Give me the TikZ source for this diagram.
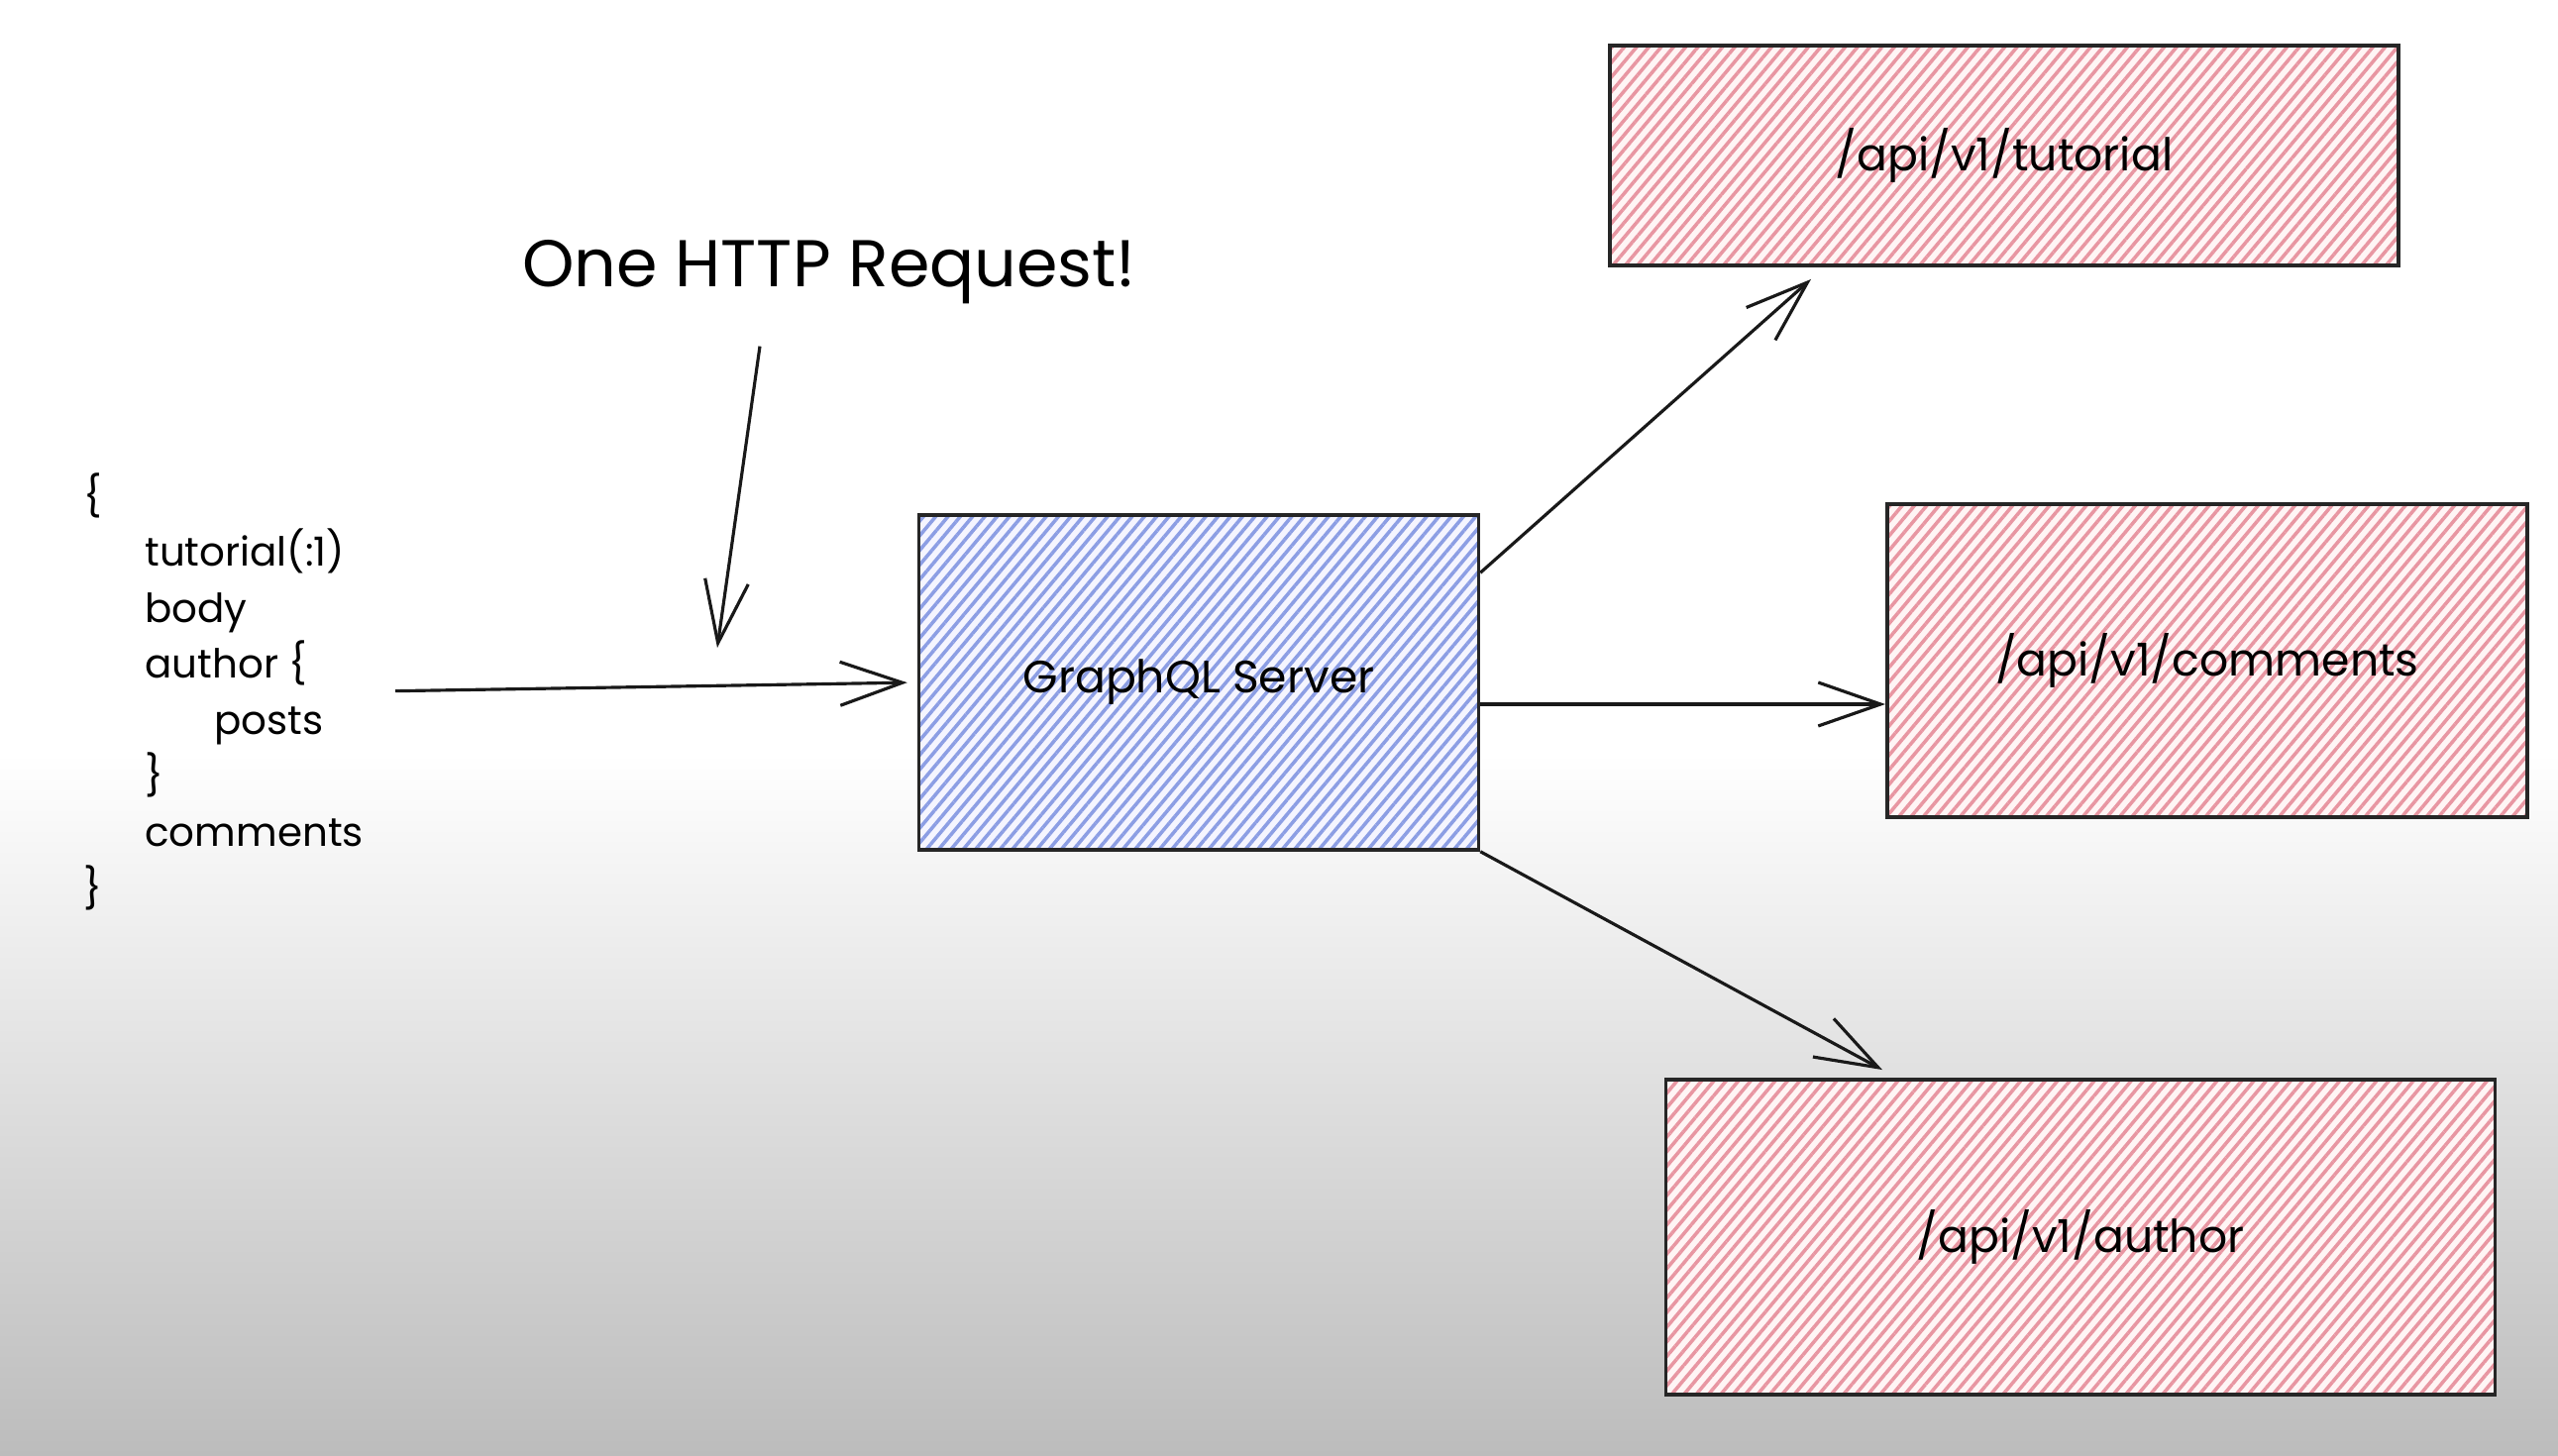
\documentclass[tikz,border=0pt]{standalone}
\usepackage{fontspec}
\setmainfont{Poppins}
\usetikzlibrary{positioning,arrows.meta,patterns.meta}

\definecolor{hatchblue}{RGB}{140,158,228}
\definecolor{hatchred}{RGB}{232,150,162}
\definecolor{shadowgray}{RGB}{188,188,188}

\begin{document}
\begin{tikzpicture}[
        box/.style={draw=black!85, line width=1.1pt, inner sep=0pt, font=\fontsize{13}{16}\selectfont},
        serverbox/.style={box, preaction={fill=blue!4}, pattern={Lines[angle=50,distance=2.7pt,line width=1pt]}, pattern color=hatchblue},
        apibox/.style={box, preaction={fill=red!4}, pattern={Lines[angle=50,distance=2.7pt,line width=1pt]}, pattern color=hatchred},
        labelstyle/.style={align=left, font=\fontsize{11.5}{16.1}\selectfont},
        arrow/.style={line width=0.9pt, -{Straight Barb[length=0.63cm,width=0.44cm]}, color=black!90}
    ]

    % --- Background ---
    \useasboundingbox (0,0) rectangle (25.82,-14.70);
    \fill[white] (0,0) rectangle (25.82,-7.6);
    \shade[top color=white, bottom color=shadowgray] (0,-7.6) rectangle (25.82,-14.70);

    % --- Query ---
    \node[labelstyle, anchor=west] (query) at (0.72,-6.98)
    {\{\\
     \hspace*{0.62cm}tutorial(:1)\\
     \hspace*{0.62cm}body\\
     \hspace*{0.62cm}author \{\\
     \hspace*{1.32cm}posts\\
     \hspace*{0.62cm}\}\\
     \hspace*{0.62cm}comments\\
     \}};

    % --- Title ---
    \node[font=\fontsize{19}{22}\selectfont] (title) at (8.37,-2.75) {One HTTP Request!};
    \coordinate (hit) at (7.24,-6.54);

    % --- Server and endpoints ---
    \node[serverbox, minimum width=5.65cm, minimum height=3.38cm] (server) at (12.10,-6.89) {GraphQL Server};
    \node[apibox, minimum width=7.96cm, minimum height=2.22cm] (tutorial) at (20.23,-1.57) {/api/v1/tutorial};
    \node[apibox, minimum width=6.46cm, minimum height=3.16cm] (comments) at (22.28,-6.67) {/api/v1/comments};
    \node[apibox, minimum width=8.37cm, minimum height=3.18cm] (author) at (21.00,-12.49) {/api/v1/author};

    % --- Arrows ---
    \draw[arrow] ([xshift=-0.7cm]title.south) ++(0,-0.3) -- (hit);
    \draw[arrow, shorten <=0.2cm, shorten >=0.1cm] (query.east) -- (server.west);
    \draw[arrow] ([yshift=-0.6cm]server.north east) -- ([xshift=-1.95cm,yshift=-0.12cm]tutorial.south);
    \draw[arrow] ([yshift=-0.22cm]server.east) -- ([yshift=-0.22cm]server.east -| comments.west);
    \draw[arrow] (server.south east) -- ([xshift=-2.0cm,yshift=0.08cm]author.north);

\end{tikzpicture}
\end{document}
